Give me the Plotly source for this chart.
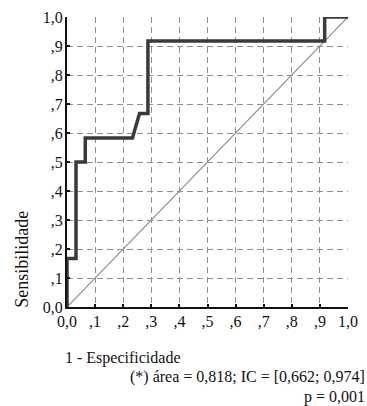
import plotly.graph_objects as go

# ROC curve data
fpr = [0.0, 0.0, 0.0, 0.032, 0.032, 0.065, 0.065, 0.233, 0.258, 0.288, 0.288, 0.917, 0.917, 1.0]
tpr = [0.0, 0.0, 0.167, 0.167, 0.5, 0.5, 0.583, 0.583, 0.667, 0.667, 0.917, 0.917, 1.0, 1.0]
ref_x = [0.0, 1.0]
ref_y = [0.0, 1.0]

tick_vals = [0.0, 0.1, 0.2, 0.3, 0.4, 0.5, 0.6, 0.7, 0.8, 0.9, 1.0]
tick_text = ["0,0", ",1", ",2", ",3", ",4", ",5", ",6", ",7", ",8", ",9", "1,0"]

x_title = "1 - Especificidade"
note1 = "(*) área = 0,818; IC = [0,662; 0,974]"
note2 = "p = 0,001"
y_title = "Sensibilidade"

FONT = "Liberation Serif"

fig = go.Figure()
fig.add_trace(go.Scatter(x=ref_x, y=ref_y, mode="lines",
                         line=dict(color="#8a8a8a", width=1.2),
                         hoverinfo="skip", showlegend=False, cliponaxis=False))
fig.add_trace(go.Scatter(x=fpr, y=tpr, mode="lines",
                         line=dict(color="#3a3a3a", width=3.5),
                         showlegend=False, cliponaxis=False))

axis_common = dict(
    range=[0, 1], tickvals=tick_vals, ticktext=tick_text,
    showgrid=True, gridcolor="#8f8f8f", gridwidth=1, griddash="6px,4px",
    zeroline=False, showline=True, linecolor="#111", linewidth=2,
    ticks="inside", ticklen=3, tickwidth=2, tickcolor="#111",
    ticklabeloverflow="allow",
    tickfont=dict(family=FONT, size=16, color="#111"),
    fixedrange=True,
)

fig.update_layout(
    width=367, height=406,
    margin=dict(l=67, r=9, t=17, b=99),
    paper_bgcolor="white", plot_bgcolor="white",
    xaxis=dict(**axis_common, ticklabelstandoff=-1),
    yaxis=dict(**axis_common, ticklabelstandoff=-1),
    font=dict(family=FONT, color="#111"),
    annotations=[
        dict(text=y_title, textangle=-90, xref="paper", yref="paper",
             x=-0.158, y=0.165, xanchor="center", yanchor="middle",
             showarrow=False, font=dict(family=FONT, size=18, color="#111")),
        dict(text=x_title, xref="paper", yref="paper",
             x=-0.015, y=-0.175, xanchor="left", yanchor="middle",
             showarrow=False, font=dict(family=FONT, size=16, color="#111")),
        dict(text=note1, xref="paper", yref="paper",
             x=1.068, y=-0.24, xanchor="right", yanchor="middle",
             showarrow=False, font=dict(family=FONT, size=16, color="#111")),
        dict(text=note2, xref="paper", yref="paper",
             x=1.068, y=-0.31, xanchor="right", yanchor="middle",
             showarrow=False, font=dict(family=FONT, size=16, color="#111")),
    ],
)

fig.write_html("out.html")
